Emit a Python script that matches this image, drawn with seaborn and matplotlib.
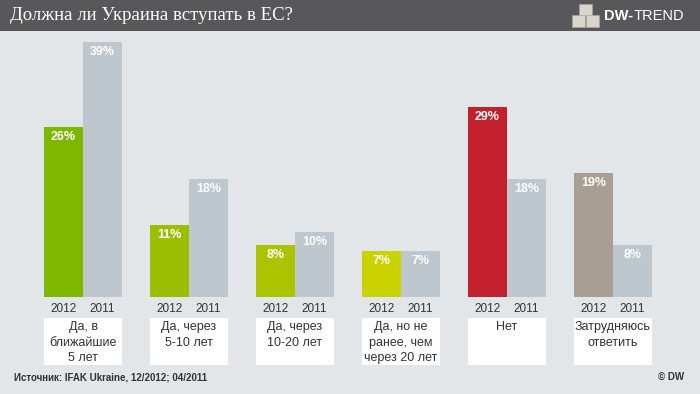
import pandas as pd
import numpy as np
import matplotlib.pyplot as plt
import seaborn as sns
from matplotlib.patches import Rectangle

# данные
categories = ["Да, в\nближайшие\n5 лет", "Да, через\n5-10 лет", "Да, через\n10-20 лет",
              "Да, но не\nранее, чем\nчерез 20 лет", "Нет", "Затрудняюсь\nответить"]
values_2012 = [26, 11, 8, 7, 29, 19]
values_2011 = [39, 18, 10, 7, 18, 8]
years = ["2012", "2011"]

colors_2012 = ["#7db700", "#9bbf00", "#aac400", "#cad300", "#c3202e", "#a89e94"]
color_2011 = "#bbc7d0"
bg = "#e2e6e9"

df = pd.DataFrame({
    "cat": list(range(len(categories))) * 2,
    "year": ["2012"] * 6 + ["2011"] * 6,
    "value": values_2012 + values_2011,
})

sns.set_theme(style="white")
plt.rcParams["font.family"] = ["Liberation Sans", "DejaVu Sans"]

W, H = 700, 394
fig = plt.figure(figsize=(7, 3.94), dpi=100, facecolor=bg)

# оси: baseline на 297px, верх на 31px
px_per_unit = 6.54
ax = fig.add_axes([0, 1 - 297 / H, 1, (297 - 31) / H])
ax.set_facecolor("none")

sns.barplot(data=df, x="cat", y="value", hue="year", hue_order=years,
            order=list(range(6)), width=0.736, palette=[colors_2012[0], color_2011],
            linewidth=0, legend=False, ax=ax)

ax.set_xlim(-83 / 106, (W - 83) / 106)
ax.set_ylim(0, (297 - 31) / px_per_unit)
ax.axis("off")

bars = ax.patches[:12]
for i, p in enumerate(bars[:6]):
    p.set_facecolor(colors_2012[i])

for p in bars:
    h = p.get_height()
    ax.text(p.get_x() + p.get_width() / 2, h - 10 / px_per_unit, f"{int(h)}%",
            ha="center", va="center", color="white", fontsize=9, fontweight="bold")

# подписи годов и категории
bw = bars[0].get_width()
for i in range(6):
    ax.text(i - bw / 2, -12 / px_per_unit, "2012", ha="center", va="center",
            fontsize=8.5, color="#333333", clip_on=False)
    ax.text(i + bw / 2, -12 / px_per_unit, "2011", ha="center", va="center",
            fontsize=8.5, color="#333333", clip_on=False)
    ax.add_patch(Rectangle((i - bw, -68 / px_per_unit), 2 * bw, 47 / px_per_unit,
                           facecolor="white", edgecolor="none", clip_on=False))
    ax.text(i, -24 / px_per_unit, categories[i], ha="center", va="top",
            fontsize=9, color="#333333", linespacing=1.4, clip_on=False)

# шапка
fig.patches.append(Rectangle((0, 1 - 31 / H), 1, 31 / H, transform=fig.transFigure,
                             facecolor="#58585a", edgecolor="none", zorder=0))
fig.text(10 / W, 1 - 16 / H, "Должна ли Украина вступать в ЕС?", color="white",
         fontsize=13.5, family="Liberation Serif", va="center", ha="left")

# логотип
for (x0, y0) in [(579, 4), (572, 15), (586, 15)]:
    fig.patches.append(Rectangle((x0 / W, 1 - (y0 + 12) / H), 13 / W, 12 / H,
                                 transform=fig.transFigure, facecolor="#d9d5cd",
                                 edgecolor="#a9a59d", linewidth=0.5))
t1 = fig.text(604 / W, 1 - 16 / H, "DW-", color="white", fontsize=10.5,
              fontweight="bold", va="center", ha="left")
r = fig.canvas.get_renderer()
x_end = t1.get_window_extent(r).x1
fig.text(x_end / W + 0.5 / W, 1 - 16 / H, "TREND", color="white", fontsize=10.5,
         va="center", ha="left")

# источник
fig.text(14 / W, 1 - 377 / H, "Источник: IFAK Ukraine, 12/2012; 04/2011",
         fontsize=7, fontweight="bold", color="#333333", va="center", ha="left")
fig.text(684 / W, 1 - 377 / H, "© DW", fontsize=7, fontweight="bold",
         color="#333333", va="center", ha="right")

fig.savefig("out.png", dpi=100, facecolor=bg)
